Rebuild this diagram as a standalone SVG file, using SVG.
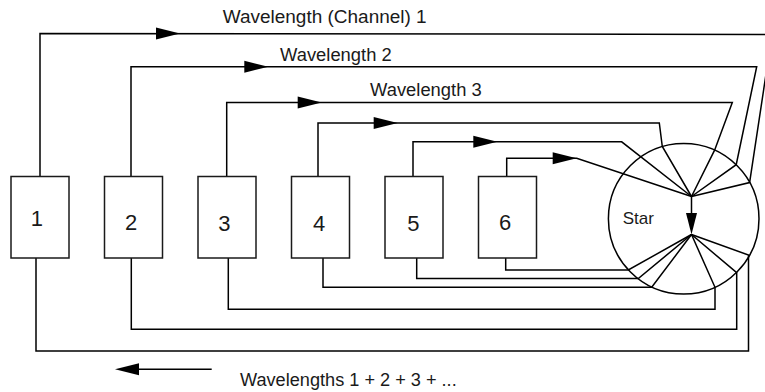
<svg xmlns="http://www.w3.org/2000/svg" width="765" height="392" viewBox="0 0 765 392">
  <style>
    .ln { fill: none; stroke: #000; stroke-width: 1.5; stroke-linejoin: miter; }
    .box { fill: #fff; stroke: #1a1a1a; stroke-width: 1.5; }
    .star { fill: none; stroke: #000; stroke-width: 1.5; }
    .t { font-family: "Liberation Sans", Arial, Helvetica, sans-serif; fill: #1a1a1a; }
    .lbl { font-size: 17.5px; }
    .num { font-size: 22px; text-anchor: middle; }
    .ah { fill: #000; stroke: none; }
  </style>
  <defs>
    <path id="ah" class="ah" d="M0,0 L-24,-6 L-24,6 Z"/>
  </defs>

  <g id="connectors">
    <!-- top (transmit) lines -->
    <polyline class="ln" points="40,176.5 40,33.4 772,34.5 749.6,182.6 691.5,196.5"/>
    <polyline class="ln" points="131,176.5 131,66.7 756.7,66.7 736.2,164.7 691.5,196.5"/>
    <polyline class="ln" points="226.7,176.5 226.7,102.6 732.3,102.6 714.6,150.2 691.5,196.5"/>
    <polyline class="ln" points="318,176.5 318,123 659.3,123 662.3,146.5 691.5,196.5"/>
    <polyline class="ln" points="413,176.5 413,141.8 621.7,141.8 691.5,196.5"/>
    <polyline class="ln" points="506.7,176.5 506.7,158.3 576.7,158.3 691.5,196.5"/>
    <!-- star internal arrow -->
    <line class="ln" x1="691.5" y1="196.5" x2="691.5" y2="215"/>
    <!-- bottom (receive) lines -->
    <polyline class="ln" points="691.5,234.5 628.3,270 505.7,270 505.7,258"/>
    <polyline class="ln" points="691.5,234.5 638.3,278.5 416.7,278.5 416.7,258"/>
    <polyline class="ln" points="691.5,234.5 651.7,287.3 323,287.3 323,258"/>
    <polyline class="ln" points="691.5,234.5 715,287.3 715,309.3 228.3,309.3 228.3,258"/>
    <polyline class="ln" points="691.5,234.5 736.7,272.7 736.7,329.3 131.3,329.3 131.3,258"/>
    <polyline class="ln" points="691.5,234.5 748.5,255 748.5,351 36,351 36,258"/>
    <!-- legend arrow -->
    <line class="ln" x1="130" y1="369.3" x2="211.7" y2="369.3"/>
    <!-- arrowheads -->
    <use href="#ah" transform="translate(180,33.4)"/>
    <use href="#ah" transform="translate(268.3,66.7)"/>
    <use href="#ah" transform="translate(321.7,102.6)"/>
    <use href="#ah" transform="translate(397.7,123)"/>
    <use href="#ah" transform="translate(497.3,141.8)"/>
    <use href="#ah" transform="translate(576.7,158.3)"/>
    <path class="ah" d="M691.5,234.5 L686,213 L697,213 Z"/>
    <use href="#ah" transform="translate(115,369.3) rotate(180)"/>
  </g>

  <g id="star">
    <circle class="star" cx="683.7" cy="218.7" r="75.3"/>
    <text class="t" x="622.7" y="224" font-size="17">Star</text>
  </g>

  <g id="node1">
    <rect class="box" x="11" y="176.5" width="58" height="81.5"/>
    <text class="t num" x="36.8" y="225.7">1</text>
  </g>
  <g id="node2">
    <rect class="box" x="104.5" y="176.5" width="58" height="81.5"/>
    <text class="t num" x="131" y="230">2</text>
  </g>
  <g id="node3">
    <rect class="box" x="198" y="176.5" width="58" height="81.5"/>
    <text class="t num" x="224.3" y="230.7">3</text>
  </g>
  <g id="node4">
    <rect class="box" x="291.5" y="176.5" width="58" height="81.5"/>
    <text class="t num" x="319.2" y="231">4</text>
  </g>
  <g id="node5">
    <rect class="box" x="385" y="176.5" width="58" height="81.5"/>
    <text class="t num" x="413.3" y="230.7">5</text>
  </g>
  <g id="node6">
    <rect class="box" x="478.5" y="176.5" width="58" height="81.5"/>
    <text class="t num" x="505" y="230">6</text>
  </g>

  <g id="labels">
    <text class="t lbl" x="222.7" y="22.7" textLength="204" lengthAdjust="spacingAndGlyphs">Wavelength (Channel) 1</text>
    <text class="t lbl" x="280" y="60.7" textLength="111.7" lengthAdjust="spacingAndGlyphs">Wavelength 2</text>
    <text class="t lbl" x="370" y="96" textLength="111.7" lengthAdjust="spacingAndGlyphs">Wavelength 3</text>
    <text class="t lbl" x="240" y="386" textLength="216.7" lengthAdjust="spacingAndGlyphs">Wavelengths 1 + 2 + 3 + ...</text>
  </g>
</svg>
